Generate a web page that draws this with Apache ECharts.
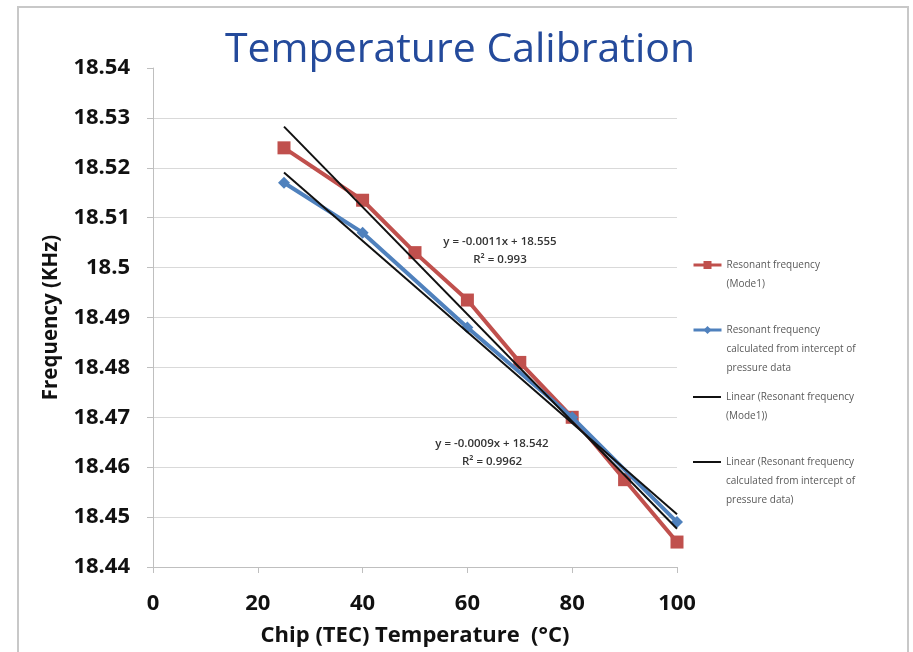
<!DOCTYPE html>
<html>
<head>
<meta charset="UTF-8" />
<title>Temperature Calibration</title>
<script src="https://cdn.jsdelivr.net/npm/echarts@6/dist/echarts.min.js"></script>
<style>
  html, body { margin: 0; padding: 0; background: #fff; }
  #main { width: 913px; height: 652px; }
</style>
</head>
<body>
<div id="main"></div>
<script>
// values
var modeTemps = [25, 40, 50, 60, 70, 80, 90, 100];
var modeFreq = [18.524, 18.5135, 18.503, 18.4935, 18.481, 18.470, 18.4575, 18.445];
var pressTemps = [25, 40, 60, 80, 100];
var pressFreq = [18.517, 18.507, 18.488, 18.470, 18.449];
var xTicks = [0, 20, 40, 60, 80, 100];
var yTicks = [18.44, 18.54, 0.01]; // min, max, step

var seriesNames = [
  'Resonant frequency\n(Mode1)',
  'Resonant frequency\ncalculated from intercept of\npressure data',
  'Linear (Resonant frequency\n(Mode1))',
  'Linear (Resonant frequency\ncalculated from intercept of\npressure data)'
];
var eqTexts = [
  'y = -0.0011x + 18.555\nR² = 0.993',
  'y = -0.0009x + 18.542\nR² = 0.9962'
];

function pairs(xs, ys) {
  var out = [];
  for (var i = 0; i < xs.length; i++) out.push([xs[i], ys[i]]);
  return out;
}

// least squares trend line between first and last x, like excel does
function trend(xs, ys) {
  var n = xs.length, sx = 0, sy = 0, sxx = 0, sxy = 0;
  for (var i = 0; i < n; i++) {
    sx += xs[i]; sy += ys[i];
    sxx += xs[i] * xs[i]; sxy += xs[i] * ys[i];
  }
  var a = (n * sxy - sx * sy) / (n * sxx - sx * sx);
  var b = (sy - a * sx) / n;
  var x0 = xs[0], x1 = xs[n - 1];
  return [[x0, a * x0 + b], [x1, a * x1 + b]];
}

var labelFont = 'Open Sans';

// one legend per entry so the icon sits on the first text line
function oneLegend(name, top, lines, plain) {
  var item = { name: name };
  if (plain) item.itemStyle = { color: 'transparent', opacity: 0, borderWidth: 0 };
  return {
    data: [item],
    orient: 'vertical',
    left: 692,
    top: top,
    padding: 0,
    itemWidth: 28,
    itemHeight: 10,
    selectedMode: false,
    lineStyle: { width: plain ? 2 : 3 },
    formatter: function (n) {
      var pre = '';
      for (var i = 1; i < lines; i++) pre += ' \n';
      return pre + n;
    },
    textStyle: { color: '#595959', fontSize: 10, fontFamily: 'Open Sans', lineHeight: 19 }
  };
}

var myChart = echarts.init(document.getElementById('main'));
myChart.setOption({
  backgroundColor: '#fff',
  animation: false,
  title: {
    text: 'Temperature Calibration',
    left: 220,
    top: 25,
    textStyle: { color: '#244a9b', fontSize: 41, fontWeight: 'normal', fontFamily: 'Open Sans' }
  },
  legend: [
    oneLegend(seriesNames[0], 265 - 28.5, 2, false),
    oneLegend(seriesNames[1], 330 - 47.5, 3, false),
    oneLegend(seriesNames[2], 397 - 28.5, 2, true),
    oneLegend(seriesNames[3], 462 - 47.5, 3, true)
  ],
  grid: { left: 153, right: 236, top: 68, bottom: 82, containLabel: false },
  xAxis: {
    type: 'value',
    min: xTicks[0],
    max: xTicks[xTicks.length - 1],
    interval: xTicks[1] - xTicks[0],
    name: 'Chip (TEC) Temperature  (°C)',
    nameLocation: 'middle',
    nameGap: 58,
    nameTextStyle: { color: '#111', fontSize: 22, fontWeight: 'bold', fontFamily: labelFont },
    axisLine: { lineStyle: { color: '#bfbfbf', width: 1 } },
    axisTick: { show: true, inside: false, length: 6, lineStyle: { color: '#bfbfbf' } },
    axisLabel: { color: '#111', fontSize: 22, fontWeight: 'bold', fontFamily: labelFont, margin: 26 },
    splitLine: { show: false }
  },
  yAxis: {
    type: 'value',
    min: yTicks[0],
    max: yTicks[1],
    interval: yTicks[2],
    name: 'Frequency (KHz)',
    nameLocation: 'middle',
    nameGap: 91,
    nameTextStyle: { color: '#111', fontSize: 20.5, fontWeight: 'bold', fontFamily: labelFont },
    axisLine: { show: true, lineStyle: { color: '#bfbfbf', width: 1 } },
    axisTick: { show: true, inside: false, length: 6, lineStyle: { color: '#bfbfbf' } },
    axisLabel: { color: '#111', fontSize: 22, fontWeight: 'bold', fontFamily: labelFont, margin: 23 },
    splitLine: { show: true, showMaxLine: false, lineStyle: { color: '#d9d9d9', width: 1 } }
  },
  series: [
    {
      name: seriesNames[0],
      type: 'line',
      data: pairs(modeTemps, modeFreq),
      symbol: 'rect',
      symbolSize: 13,
      lineStyle: { color: '#c0504d', width: 4 },
      itemStyle: { color: '#c0504d' },
      z: 2
    },
    {
      name: seriesNames[1],
      type: 'line',
      data: pairs(pressTemps, pressFreq),
      symbol: 'diamond',
      symbolSize: 12,
      lineStyle: { color: '#4f81bd', width: 4 },
      itemStyle: { color: '#4f81bd' },
      z: 3
    },
    {
      name: seriesNames[2],
      type: 'line',
      data: trend(modeTemps, modeFreq),
      symbol: 'none',
      lineStyle: { color: '#111', width: 2 },
      itemStyle: { color: '#111' },
      z: 4
    },
    {
      name: seriesNames[3],
      type: 'line',
      data: trend(pressTemps, pressFreq),
      symbol: 'none',
      lineStyle: { color: '#111', width: 2 },
      itemStyle: { color: '#111' },
      z: 4
    }
  ],
  graphic: [
    {
      type: 'rect',
      shape: { x: 18, y: 7, width: 890, height: 700 },
      style: { fill: 'none', stroke: '#c8c8c8', lineWidth: 2 },
      silent: true
    },
    {
      type: 'text',
      x: 500, y: 251,
      style: { text: eqTexts[0], textAlign: 'center', textVerticalAlign: 'middle', fill: '#333', font: '600 11.5px "Open Sans"', lineHeight: 18 }
    },
    {
      type: 'text',
      x: 492, y: 453,
      style: { text: eqTexts[1], textAlign: 'center', textVerticalAlign: 'middle', fill: '#333', font: '600 11.5px "Open Sans"', lineHeight: 18 }
    }
  ]
});
</script>
</body>
</html>
